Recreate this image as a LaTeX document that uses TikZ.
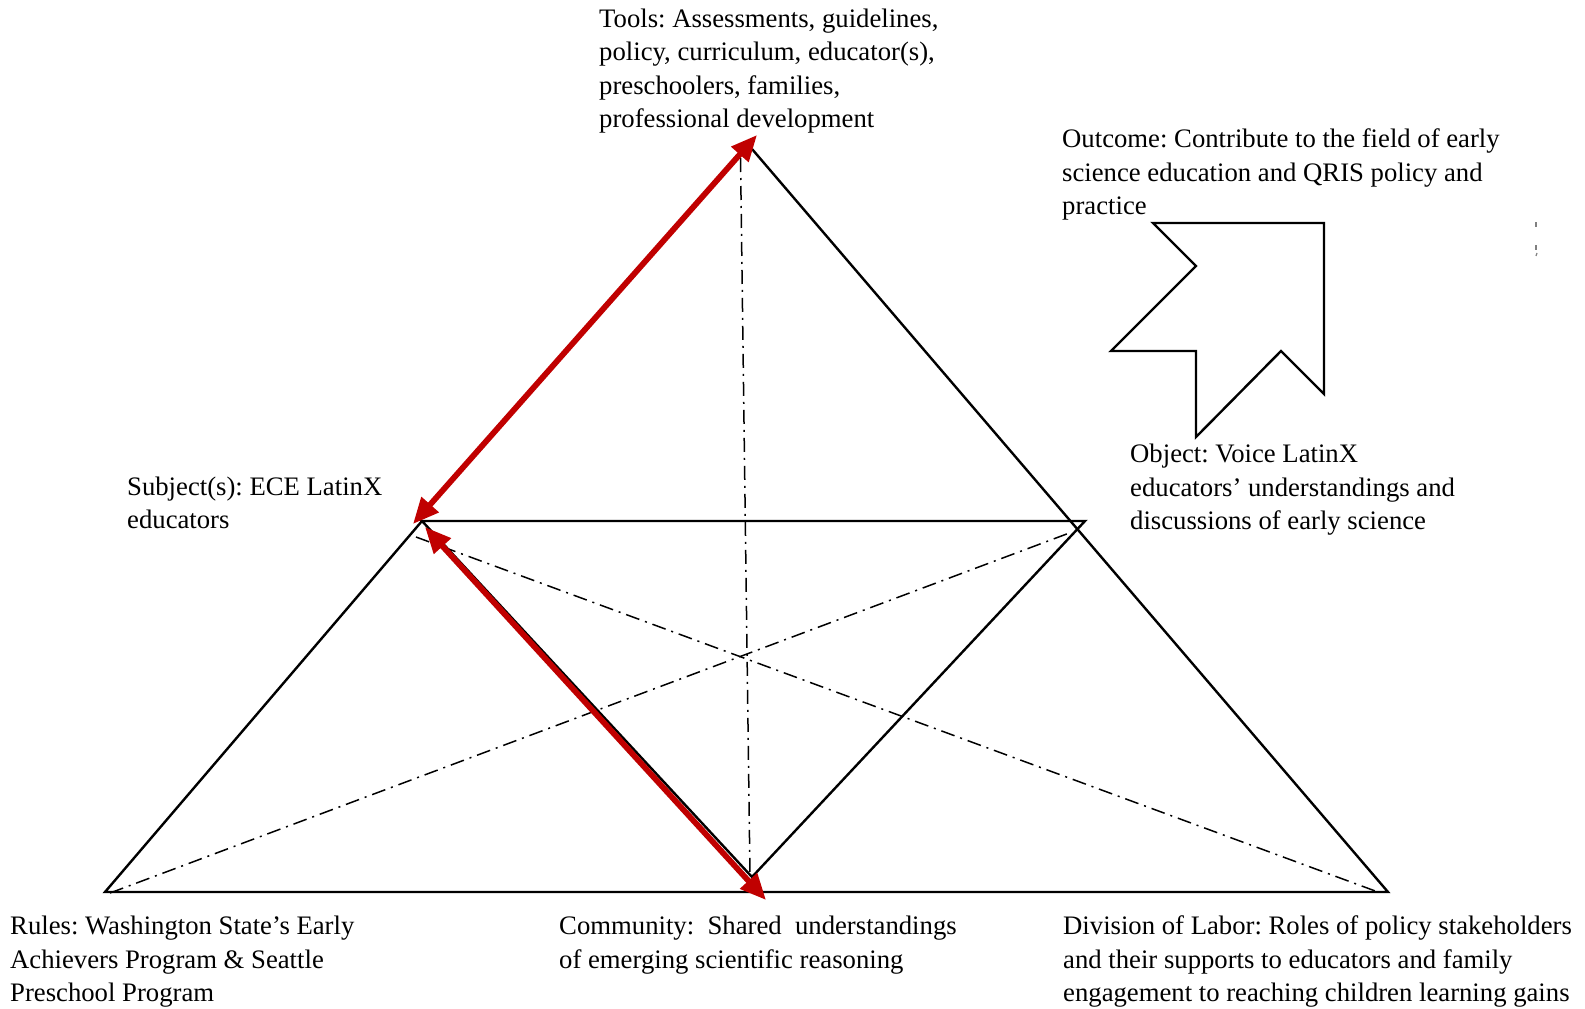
\documentclass[tikz,border=0pt]{standalone}
\usepackage{fontspec}
\setmainfont{Liberation Serif}
\usetikzlibrary{arrows.meta}
\definecolor{actred}{HTML}{C00000}
\frenchspacing
\begin{document}
\begin{tikzpicture}[x=1pt,y=-1pt,
  edge/.style={line width=2.4pt, line join=miter},
  guide/.style={line width=1.5pt, dash pattern=on 14pt off 6pt on 2pt off 6pt},
  relation/.style={actred, line width=5.8pt,
    {Triangle[length=26pt,width=22pt]}-{Triangle[length=26pt,width=22pt]}},
  txt/.style={anchor=north west, inner sep=0pt, align=left,
    font=\fontsize{26.7}{33.3}\selectfont},
  speck/.style={gray, line width=1.2pt}
]
% page frame
\path[use as bounding box, fill=white] (0,0) rectangle (1585,1009);

% corners of the activity triangle
\coordinate (apex) at (752,149);
\coordinate (bl)   at (105,892);
\coordinate (br)   at (1388,892);
\coordinate (subj) at (422,521);
\coordinate (obj)  at (1085,521);
\coordinate (comm) at (752,877);

% ends of the dash-dot mediators
\coordinate (vtop) at (740.5,158);
\coordinate (vbot) at (750,876);
\coordinate (dsA)  at (416,537);
\coordinate (dsB)  at (1378,892);
\coordinate (doA)  at (110,893);
\coordinate (doB)  at (1072,532);

% ends of the red relations
\coordinate (rA1) at (413,524);
\coordinate (rA2) at (757,135);
\coordinate (rB1) at (425,527);
\coordinate (rB2) at (766,900);

% outer and inner triangles
\draw[edge] (apex) -- (br) -- (bl) -- (subj);
\draw[edge] (subj) -- (obj) -- (comm) -- cycle;

% dash-dot mediators
\draw[guide] (vtop) -- (vbot);
\draw[guide] (dsA) -- (dsB);
\draw[guide] (doA) -- (doB);

% red relations
\draw[relation] (rA1) -- (rA2);
\draw[relation] (rB1) -- (rB2);

% outcome arrow
\draw[edge] (1153,223) -- (1324,223) -- (1324,394) -- (1281,351) -- (1196,437)
  -- (1196,351) -- (1111,351) -- (1196,266) -- cycle;

% small marks at the right margin
\draw[speck] (1536,222) -- (1536,227);
\draw[speck] (1536,245) -- (1536,250);
\draw[speck] (1537,253) -- (1536,256);

% labels
\node[txt] (tools) at (599,4.0) {\strut Tools: Assessments, guidelines,\\
  policy, curriculum, educator(s),\\ preschoolers, families,\\ professional development};
\node[txt] (outcome) at (1062,124.2) {\strut Outcome: Contribute to the field of early\\
  science education and QRIS policy and\\ practice};
\node[txt] (subject) at (127,471.7) {\strut Subject(s): ECE LatinX\\ educators};
\node[txt] (object) at (1130,439.4) {\strut Object: Voice LatinX\\
  educators’ understandings and\\ discussions of early science};
\node[txt] (rules) at (10,911.4) {\strut Rules: Washington State’s Early\\
  Achievers Program \& Seattle\\ Preschool Program};
\node[txt] (community) at (559,911.4) {\strut Community:\ \ Shared\ \ understandings\\
  of emerging scientific reasoning};
\node[txt] (division) at (1063,911.4) {\strut Division of Labor: Roles of policy stakeholders\\
  and their supports to educators and family\\ engagement to reaching children learning gains};
\end{tikzpicture}
\end{document}
